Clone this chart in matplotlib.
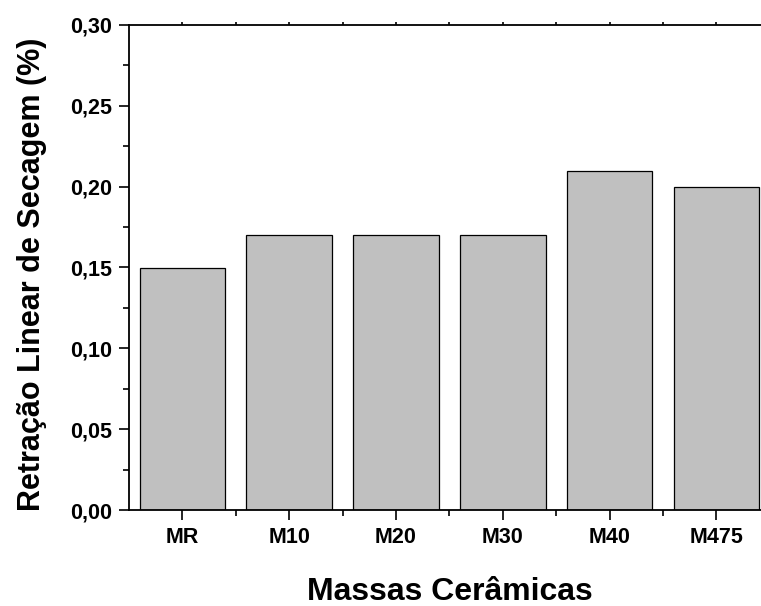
#!/usr/bin/env python3

import matplotlib
matplotlib.use('Agg')
import matplotlib.pyplot as plt
from matplotlib.ticker import FuncFormatter, MultipleLocator, FixedLocator


# +
# data
# -
MASSAS = ['MR', 'M10', 'M20', 'M30', 'M40', 'M475']
RETRACAO = [0.15, 0.17, 0.17, 0.17, 0.21, 0.20]


# +
# style
# -
plt.rcParams['font.family'] = ['Liberation Sans', 'DejaVu Sans']
plt.rcParams['font.weight'] = 'bold'


def _comma(v, _pos):
    return f'{v:.2f}'.replace('.', ',')


fig = plt.figure(figsize=(7.61, 6.06), dpi=100)
# axes run slightly past the right edge, as in the source figure
ax = fig.add_axes([129 / 761, 96 / 606, 640.8 / 761, 485 / 606])

_x = list(range(len(MASSAS)))
ax.bar(_x, RETRACAO, width=0.8, color='#c0c0c0', edgecolor='black', linewidth=0.9, zorder=2)

ax.set_xlim(-0.5, len(MASSAS) - 0.5)
ax.set_ylim(0.0, 0.30)

ax.set_xticks(_x)
ax.set_xticklabels(MASSAS)
ax.xaxis.set_minor_locator(FixedLocator([i + 0.5 for i in _x]))
ax.yaxis.set_major_locator(MultipleLocator(0.05))
ax.yaxis.set_minor_locator(MultipleLocator(0.025))
ax.yaxis.set_major_formatter(FuncFormatter(_comma))

ax.tick_params(axis='both', which='major', direction='out', length=7, width=1.2,
               labelsize=15.5, pad=5)
ax.tick_params(axis='both', which='minor', direction='out', length=4, width=1.2)
ax.tick_params(axis='y', which='both', right=False)
ax.tick_params(axis='x', which='both', top=True, labeltop=False)
for _t in ax.xaxis.get_major_ticks() + ax.xaxis.get_minor_ticks():
    _t.tick2line.set_markersize(2)

for _s in ax.spines.values():
    _s.set_linewidth(1.3)

ax.set_xlabel('Massas Cerâmicas', fontsize=23, fontweight='bold', labelpad=21)
ax.set_ylabel('Retração Linear de Secagem (%)', fontsize=22, fontweight='bold', labelpad=17)
ax.yaxis.label.set_y(0.485)

fig.savefig('out.png', dpi=100)
